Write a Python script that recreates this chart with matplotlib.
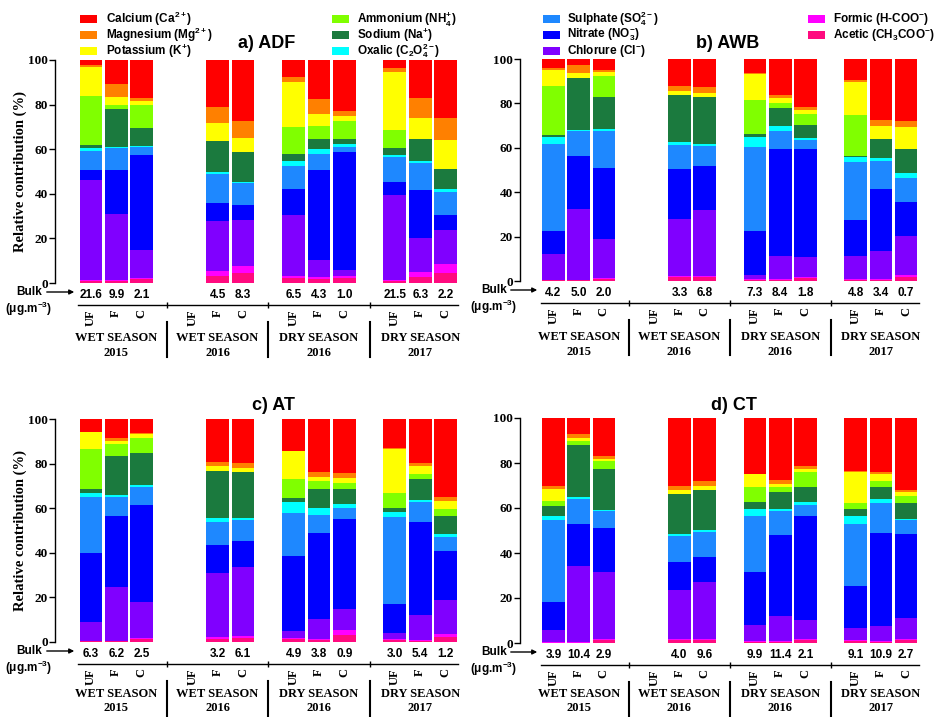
import numpy as np
import matplotlib
matplotlib.use('Agg')
import matplotlib.pyplot as plt
from matplotlib.transforms import blended_transform_factory
from matplotlib.patches import Rectangle, FancyArrowPatch
from matplotlib.lines import Line2D

plt.rcParams['font.family'] = ['Liberation Sans', 'DejaVu Sans']
plt.rcParams['mathtext.fontset'] = 'custom'
plt.rcParams['mathtext.rm'] = 'Liberation Sans:bold'
plt.rcParams['mathtext.it'] = 'Liberation Sans:bold'
plt.rcParams['mathtext.bf'] = 'Liberation Sans:bold'
plt.rcParams['mathtext.default'] = 'regular'

nan = np.nan
W, H = 940, 717

# ---------------- data ----------------
positions = [0, 1, 2, 4, 5, 6, 8, 9, 10, 12, 13, 14]
fractions = ['UF', 'F', 'C'] * 4
season_names = ['WET SEASON', 'WET SEASON', 'DRY SEASON', 'DRY SEASON']
season_years = ['2015', '2016', '2016', '2017']
season_centers = [1, 5, 9, 13]
season_seps = [3, 7, 11]

ions = ['Acetic', 'Formic', 'Chlorure', 'Nitrate', 'Sulphate', 'Oxalic',
        'Sodium', 'Ammonium', 'Potassium', 'Magnesium', 'Calcium']
ion_colors = {
    'Calcium': '#FF0000', 'Magnesium': '#FF8000', 'Potassium': '#FFFF00',
    'Ammonium': '#80FF00', 'Sodium': '#1B7A3E', 'Oxalic': '#00FFFF',
    'Sulphate': '#1E88FF', 'Nitrate': '#0000FF', 'Chlorure': '#8000FF',
    'Formic': '#FF00FF', 'Acetic': '#FF0A7F'}
ion_labels = {
    'Calcium': r'Calcium (Ca$^{2+}$)', 'Magnesium': r'Magnesium (Mg$^{2+}$)',
    'Potassium': r'Potassium (K$^{+}$)', 'Ammonium': r'Ammonium (NH$_{4}^{+}$)',
    'Sodium': r'Sodium (Na$^{+}$)', 'Oxalic': r'Oxalic (C$_{2}$O$_{4}^{2-}$)',
    'Sulphate': r'Sulphate (SO$_{4}^{2-}$)', 'Nitrate': r'Nitrate (NO$_{3}^{-}$)',
    'Chlorure': r'Chlorure (Cl$^{-}$)', 'Formic': r'Formic (H-COO$^{-}$)',
    'Acetic': r'Acetic (CH$_{3}$COO$^{-}$)'}

adf = {
    'Calcium':   [2.2, 10.9, 17.2, nan, 20.9, 27.2, 7.5, 17.6, 22.8, 3.7, 16.9, 26.1],
    'Magnesium': [1.1, 5.5, 1.0, nan, 7.5, 7.9, 2.5, 6.7, 2.1, 1.5, 8.9, 9.7],
    'Potassium': [12.7, 3.7, 1.9, nan, 7.9, 6.2, 20.1, 5.1, 2.3, 26.4, 9.7, 13.0],
    'Ammonium':  [22.1, 2.0, 10.2, nan, 0, 0, 12.0, 6.1, 8.3, 7.7, 0, 0],
    'Sodium':    [1.5, 16.7, 8.2, nan, 14.0, 13.2, 3.4, 4.5, 2.1, 3.5, 9.7, 9.0],
    'Oxalic':    [1.0, 0.8, 0.6, nan, 0.9, 0.7, 2.0, 2.1, 1.2, 0.8, 1.1, 1.5],
    'Sulphate':  [8.7, 9.7, 3.7, nan, 13.0, 10.0, 10.4, 7.2, 2.5, 11.2, 11.9, 10.4],
    'Nitrate':   [4.4, 19.7, 42.6, nan, 7.9, 6.4, 11.5, 40.6, 53.0, 5.9, 21.7, 6.7],
    'Chlorure':  [44.8, 29.5, 12.5, nan, 22.7, 20.6, 27.6, 7.6, 2.7, 37.8, 15.2, 15.1],
    'Formic':    [0.5, 0.5, 0.5, nan, 2.2, 3.3, 0.8, 0.7, 0.8, 0.7, 2.4, 4.0],
    'Acetic':    [1.0, 1.0, 1.6, nan, 3.0, 4.5, 2.2, 1.8, 2.2, 0.8, 2.5, 4.5]}

awb = {
    'Calcium':   [4.1, 2.6, 5.1, nan, 12.0, 12.8, 6.3, 16.1, 21.7, 9.3, 27.7, 28.1],
    'Magnesium': [0.8, 3.7, 0.9, nan, 2.3, 2.5, 0.5, 1.5, 1.2, 1.1, 2.7, 2.7],
    'Potassium': [7.4, 2.3, 1.5, nan, 2.1, 1.8, 11.5, 2.2, 1.8, 14.7, 5.5, 9.8],
    'Ammonium':  [22.1, 0, 9.8, nan, 0, 0, 15.4, 2.3, 4.9, 18.4, 0, 0],
    'Sodium':    [0.8, 23.3, 14.3, nan, 21.2, 21.2, 1.5, 8.3, 6.0, 0.7, 8.5, 10.8],
    'Oxalic':    [3.0, 0.7, 0.7, nan, 1.3, 0.8, 4.6, 1.9, 1.1, 2.0, 1.5, 2.3],
    'Sulphate':  [39.2, 10.9, 16.9, nan, 10.7, 9.0, 37.9, 8.2, 3.8, 26.3, 12.6, 10.5],
    'Nitrate':   [10.4, 24.0, 32.0, nan, 22.6, 19.9, 19.6, 48.1, 48.8, 16.1, 28.0, 15.5],
    'Chlorure':  [11.7, 32.0, 17.3, nan, 25.4, 29.6, 1.9, 10.5, 8.7, 10.6, 12.7, 17.6],
    'Formic':    [0.2, 0.2, 0.5, nan, 0.8, 0.8, 0.3, 0.3, 0.7, 0.3, 0.3, 1.0],
    'Acetic':    [0.3, 0.3, 1.0, nan, 1.6, 1.6, 0.5, 0.6, 1.3, 0.5, 0.5, 1.7]}

at = {
    'Calcium':   [6.0, 8.7, 6.1, nan, 19.4, 19.9, 14.3, 23.9, 24.3, 13.1, 19.9, 34.8],
    'Magnesium': [0, 1.2, 0.8, nan, 1.9, 2.2, 0, 1.9, 2.3, 0.3, 1.4, 1.8],
    'Potassium': [7.4, 1.4, 1.5, nan, 1.8, 1.8, 12.7, 2.0, 2.2, 19.6, 3.3, 3.8],
    'Ammonium':  [18.1, 5.1, 7.0, nan, 0, 0, 8.5, 3.7, 2.5, 7.0, 2.3, 3.0],
    'Sodium':    [1.8, 17.6, 14.2, nan, 21.4, 20.6, 1.5, 8.5, 6.8, 1.9, 9.4, 8.2],
    'Oxalic':    [1.5, 0.8, 1.0, nan, 1.9, 1.0, 5.2, 3.0, 1.9, 2.1, 0.7, 1.1],
    'Sulphate':  [25.1, 8.9, 7.9, nan, 10.3, 9.0, 19.4, 8.2, 4.8, 38.8, 9.3, 6.7],
    'Nitrate':   [31.1, 31.7, 43.6, nan, 12.4, 11.9, 33.6, 38.4, 40.3, 13.2, 41.5, 21.6],
    'Chlorure':  [8.4, 24.0, 16.1, nan, 28.8, 31.1, 3.0, 8.9, 9.7, 2.7, 11.2, 15.3],
    'Formic':    [0.2, 0.2, 0.6, nan, 0.7, 0.9, 0.6, 0.5, 1.9, 0.5, 0.4, 1.5],
    'Acetic':    [0.4, 0.4, 1.2, nan, 1.4, 1.6, 1.2, 1.0, 3.3, 0.8, 0.6, 2.2]}

ct = {
    'Calcium':   [30.1, 7.1, 17.0, nan, 30.1, 28.1, 24.7, 27.4, 21.2, 23.4, 24.0, 31.9],
    'Magnesium': [1.3, 1.8, 1.1, nan, 1.8, 2.3, 0, 1.8, 1.3, 0.6, 0.7, 1.2],
    'Potassium': [5.3, 1.2, 0.9, nan, 1.9, 1.5, 6.1, 1.6, 1.6, 13.8, 3.2, 1.7],
    'Ammonium':  [2.6, 2.0, 3.7, nan, 0, 0, 6.7, 2.1, 6.6, 2.6, 2.8, 3.0],
    'Sodium':    [4.1, 23.2, 18.0, nan, 17.6, 18.0, 2.9, 7.4, 6.8, 3.3, 5.2, 6.9],
    'Oxalic':    [1.8, 0.7, 0.8, nan, 1.2, 0.9, 3.3, 1.2, 1.3, 3.4, 1.9, 0.8],
    'Sulphate':  [36.7, 11.0, 7.4, nan, 11.5, 11.0, 24.7, 10.4, 4.9, 27.7, 13.3, 6.1],
    'Nitrate':   [12.2, 18.6, 19.7, nan, 12.2, 11.2, 23.7, 36.0, 46.2, 18.5, 41.5, 37.3],
    'Chlorure':  [5.5, 34.0, 29.6, nan, 21.9, 25.2, 7.2, 11.4, 8.3, 5.2, 6.7, 9.3],
    'Formic':    [0.2, 0.2, 0.6, nan, 0.6, 0.6, 0.3, 0.3, 0.6, 0.5, 0.3, 0.6],
    'Acetic':    [0.2, 0.2, 1.2, nan, 1.2, 1.2, 0.4, 0.4, 1.2, 1.0, 0.4, 1.2]}

bulk_adf = ['21.6', '9.9', '2.1', '', '4.5', '8.3', '6.5', '4.3', '1.0', '21.5', '6.3', '2.2']
bulk_awb = ['4.2', '5.0', '2.0', '', '3.3', '6.8', '7.3', '8.4', '1.8', '4.8', '3.4', '0.7']
bulk_at = ['6.3', '6.2', '2.5', '', '3.2', '6.1', '4.9', '3.8', '0.9', '3.0', '5.4', '1.2']
bulk_ct = ['3.9', '10.4', '2.9', '', '4.0', '9.6', '9.9', '11.4', '2.1', '9.1', '10.9', '2.7']

legend_a = [['Calcium', 'Magnesium', 'Potassium'], ['Ammonium', 'Sodium', 'Oxalic']]
legend_b = [['Sulphate', 'Nitrate', 'Chlorure'], ['Formic', 'Acetic']]

# ---------------- layout ----------------
fig = plt.figure(figsize=(W / 100, H / 100), dpi=100)
SERIF = ['Liberation Serif', 'DejaVu Serif']
SANS = ['Liberation Sans', 'DejaVu Sans']


def fy(y):
    return 1 - y / H


def fx(x):
    return x / W


panels = [
    dict(data=adf, bulk=bulk_adf, box=(55, 462, 60, 283), xlim=(-1.42, 14.65),
         title='a) ADF', tpos=(267, 44), ylabel=True, bulkx=(29, 44, 77), se=55, yr=70),
    dict(data=awb, bulk=bulk_awb, box=(520, 925, 59, 281), xlim=(-1.33, 14.75),
         title='b) AWB', tpos=(728, 44), ylabel=False, bulkx=(494, 508, 540), se=56, yr=71),
    dict(data=at, bulk=bulk_at, box=(55, 462, 419, 642), xlim=(-1.42, 14.65),
         title='c) AT', tpos=(274, 406), ylabel=True, bulkx=(29, 44, 77), se=52, yr=66),
    dict(data=ct, bulk=bulk_ct, box=(520, 925, 418, 643), xlim=(-1.33, 14.75),
         title='d) CT', tpos=(734, 406), ylabel=False, bulkx=(494, 508, 540), se=51, yr=65),
]

for p in panels:
    l, r, t, b = p['box']
    ax = fig.add_axes([fx(l), fy(b), (r - l) / W, (b - t) / H])
    data = p['data']
    valid = [i for i in range(len(positions)) if not np.isnan(data['Calcium'][i])]
    xs = np.array([positions[i] for i in valid], dtype=float)
    cum = np.zeros(len(valid))
    for ion in ions:
        vals = np.array([data[ion][i] for i in valid], dtype=float)
        ax.bar(xs, vals, bottom=cum, width=0.9, color=ion_colors[ion],
               edgecolor='none', linewidth=0)
        cum = cum + vals

    ax.set_xlim(*p['xlim'])
    ax.set_ylim(0, 100)
    for s in ['top', 'right']:
        ax.spines[s].set_visible(False)
    ax.spines['left'].set_bounds(0, 100)
    ax.spines['left'].set_linewidth(1.0)
    ax.spines['bottom'].set_position(('outward', 22 * 0.72))
    ax.spines['bottom'].set_bounds(-0.5, 14.5)
    ax.spines['bottom'].set_linewidth(1.0)
    ax.set_yticks([0, 20, 40, 60, 80, 100])
    ax.tick_params(axis='y', length=4, width=1, pad=1)
    for lab in ax.get_yticklabels():
        lab.set_fontfamily(SERIF)
        lab.set_fontweight('bold')
        lab.set_fontsize(9.5)
    ax.set_xticks(positions)
    ax.set_xticklabels(fractions, rotation=90, fontfamily=SERIF,
                       fontweight='bold', fontsize=9)
    ax.tick_params(axis='x', which='major', length=0, pad=3)
    ax.set_xticks(season_seps, minor=True)
    ax.tick_params(axis='x', which='minor', length=4, width=1, direction='inout')

    if p['ylabel']:
        fig.text(fx(20), fy((t + b) / 2), 'Relative contribution (%)', rotation=90,
                 ha='center', va='center', fontfamily=SERIF, fontweight='bold',
                 fontsize=10.5)

    tr = blended_transform_factory(ax.transData, fig.transFigure)
    for i, x in enumerate(positions):
        if p['bulk'][i]:
            ax.text(x, fy(b + 12), p['bulk'][i], transform=tr, ha='center',
                    va='center', fontsize=8.5, fontweight='bold', fontfamily=SANS)
    for c, n, yr in zip(season_centers, season_names, season_years):
        ax.text(c, fy(b + p['se']), n, transform=tr, ha='center', va='center',
                fontsize=9, fontweight='bold', fontfamily=SERIF)
        ax.text(c, fy(b + p['yr']), yr, transform=tr, ha='center', va='center',
                fontsize=9, fontweight='bold', fontfamily=SERIF)
    for s in season_seps:
        ax.add_line(Line2D([s, s], [fy(b + 39), fy(min(b + 74, 716))], transform=tr,
                           color='black', lw=1.5, clip_on=False))

    bx, ax0, ax1 = p['bulkx']
    fig.text(fx(bx), fy(b + 9), 'Bulk', ha='center', va='center', fontsize=8.5,
             fontweight='bold', fontfamily=SANS)
    fig.text(fx(bx), fy(b + 26), r'($\mu$g.m$^{-3}$)', ha='center', va='center',
             fontsize=8.5, fontweight='bold', fontfamily=SANS)
    fig.add_artist(FancyArrowPatch(
        (fx(ax0), fy(b + 9)), (fx(ax1), fy(b + 9)), transform=fig.transFigure,
        arrowstyle='-|>', mutation_scale=7, color='black', lw=1))

    fig.text(fx(p['tpos'][0]), fy(p['tpos'][1]), p['title'], ha='center',
             va='center', fontsize=13, fontweight='bold', fontfamily=SANS)


def draw_legend(cols, xs_patch, xs_text, rows_y):
    for col, xp, xt in zip(cols, xs_patch, xs_text):
        for ion, y in zip(col, rows_y):
            fig.add_artist(Rectangle((fx(xp), fy(y + 4)), 17 / W, 8 / H,
                                     transform=fig.transFigure,
                                     color=ion_colors[ion], lw=0))
            fig.text(fx(xt), fy(y), ion_labels[ion], ha='left', va='center',
                     fontsize=8.5, fontweight='bold', fontfamily=SANS)


draw_legend(legend_a, [80, 332], [106, 357], [19, 35, 51])
draw_legend(legend_b, [543, 808], [567, 833], [19, 35, 51])

fig.savefig('out.png', dpi=100)
